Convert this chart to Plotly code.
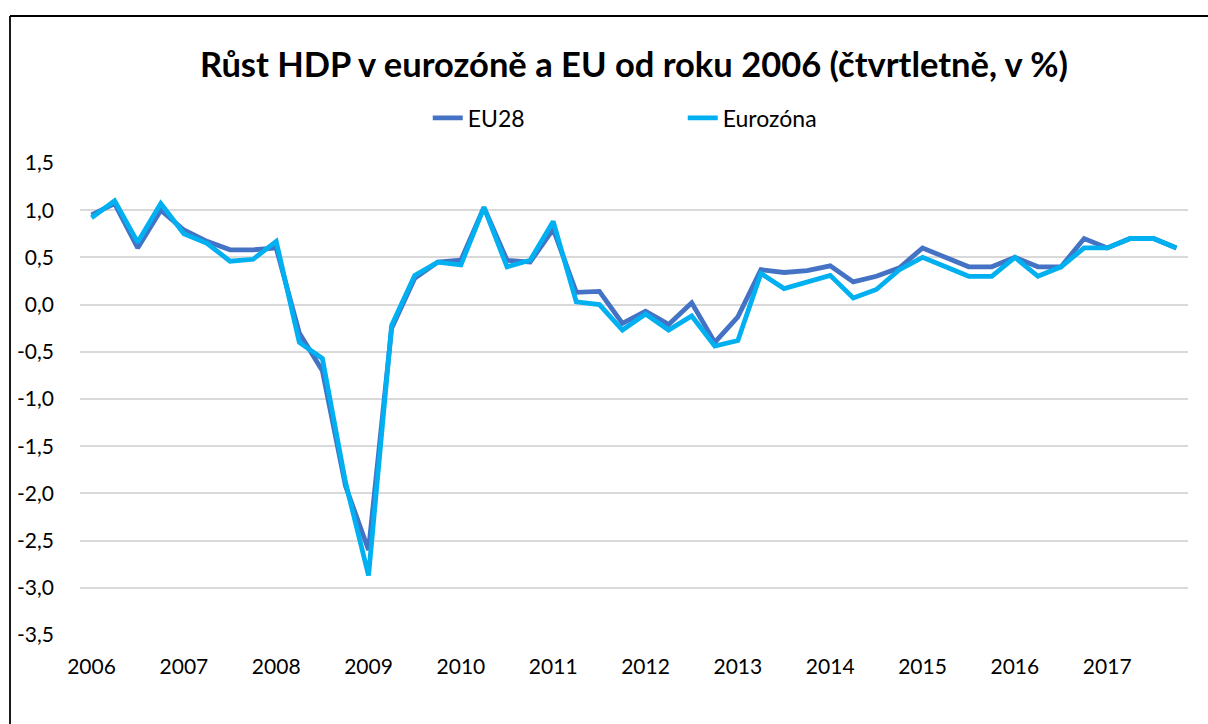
import plotly.graph_objects as go

years = ["2006", "2007", "2008", "2009", "2010", "2011", "2012",
         "2013", "2014", "2015", "2016", "2017"]
quarters = [f"{y} Q{q}" for y in years for q in (1, 2, 3, 4)]

eu28 = [0.95, 1.07, 0.60, 1.00, 0.79, 0.67, 0.58, 0.58,
        0.60, -0.30, -0.70, -1.92, -2.60, -0.25, 0.28, 0.45,
        0.47, 1.03, 0.47, 0.45, 0.80, 0.13, 0.14, -0.20,
        -0.07, -0.21, 0.02, -0.40, -0.13, 0.37, 0.34, 0.36,
        0.41, 0.24, 0.30, 0.39, 0.60, 0.50, 0.40, 0.40,
        0.50, 0.40, 0.40, 0.70, 0.60, 0.70, 0.70, 0.60]
eurozona = [0.92, 1.10, 0.66, 1.07, 0.75, 0.65, 0.46, 0.48,
            0.67, -0.40, -0.57, -1.88, -2.87, -0.22, 0.31, 0.45,
            0.42, 1.03, 0.40, 0.47, 0.88, 0.03, 0.00, -0.27,
            -0.10, -0.27, -0.12, -0.44, -0.38, 0.33, 0.17, 0.24,
            0.31, 0.07, 0.16, 0.37, 0.50, 0.40, 0.30, 0.30,
            0.50, 0.30, 0.40, 0.60, 0.60, 0.70, 0.70, 0.60]

y_ticks = [1.5, 1.0, 0.5, 0.0, -0.5, -1.0, -1.5, -2.0, -2.5, -3.0, -3.5]
y_labels = ["1,5", "1,0", "0,5", "0,0", "-0,5", "-1,0", "-1,5",
            "-2,0", "-2,5", "-3,0", "-3,5"]

FONT = "Lato"

# frame of the chart area (pixel positions converted to paper coordinates)
PL, PR, PT, PB = 80, 1188, 163, 635
def px_x(v):
    return (v - PL) / (PR - PL)
def px_y(v):
    return (PB - v) / (PB - PT)

fig = go.Figure()
fig.add_trace(go.Scatter(x=quarters, y=eu28, name="EU28", mode="lines",
                         line=dict(color="#4472C4", width=4.8)))
fig.add_trace(go.Scatter(x=quarters, y=eurozona, name="Eurozóna", mode="lines",
                         line=dict(color="#00B0F0", width=4.8)))

fig.update_layout(
    width=1208, height=724,
    margin=dict(l=PL, r=1208 - PR, t=PT, b=724 - PB),
    paper_bgcolor="white", plot_bgcolor="white",
    font=dict(family=FONT, size=18, color="#000000"),
    title=dict(text="<b>Růst HDP v eurozóně a EU od roku 2006 (čtvrtletně, v %)</b>",
               x=0.5, xref="paper", xanchor="center", y=1 - 65 / 724, yanchor="middle",
               font=dict(family=FONT, size=34.5, color="#000000")),
    legend=dict(orientation="h", x=0.544, xanchor="center", y=px_y(118),
                yanchor="middle", font=dict(family=FONT, size=23, color="#000000"),
                entrywidth=210, entrywidthmode="pixels", bgcolor="rgba(0,0,0,0)"),
    showlegend=True,
    xaxis=dict(type="category", range=[-0.5, 47.5], tickmode="array",
               tickvals=quarters[0::4], ticktext=years, showgrid=False,
               zeroline=False, showline=False, ticks="", ticklabelstandoff=17,
               tickfont=dict(family=FONT, size=21, color="#000000")),
    yaxis=dict(range=[-3.5, 1.5], tickmode="array", tickvals=y_ticks, ticktext=y_labels,
               showgrid=True, gridcolor="#D9D9D9", gridwidth=1.5, zeroline=False,
               showline=False, ticks="", ticklabelstandoff=25,
               tickfont=dict(family=FONT, size=21, color="#000000")),
    shapes=[
        dict(type="line", xref="paper", yref="paper",
             x0=px_x(10), x1=px_x(1300), y0=px_y(16), y1=px_y(16),
             line=dict(color="#000000", width=1.8), layer="above"),
        dict(type="line", xref="paper", yref="paper",
             x0=px_x(10), x1=px_x(10), y0=px_y(16), y1=px_y(800),
             line=dict(color="#000000", width=1.8), layer="above"),
    ],
)

fig.write_html("out.html")
